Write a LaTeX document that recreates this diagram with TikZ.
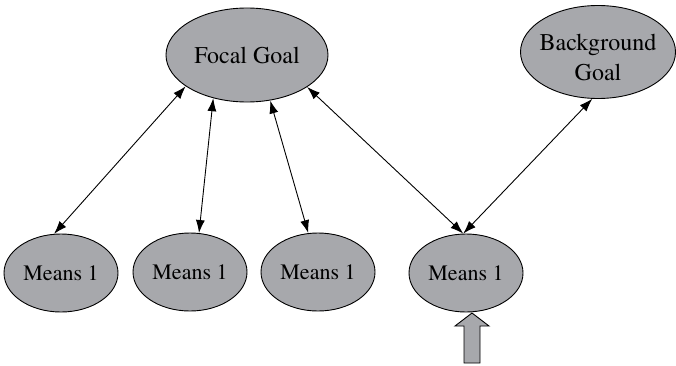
\documentclass[tikz,border=0pt]{standalone}
\usepackage{fontspec}
\newfontfamily\tms{texgyretermes-regular.otf}
\usetikzlibrary{arrows.meta,shapes.geometric}
\definecolor{ellgray}{RGB}{167,168,172}
\tikzset{
  goal/.style={ellipse, draw=black, line width=0.9pt, fill=ellgray, inner sep=0pt, align=center, font=\tms\fontsize{24}{30}\selectfont},
  goaltext/.style={inner sep=0pt, align=center, font=\tms\fontsize{24}{30}\selectfont},
  means/.style={ellipse, draw=black, line width=0.9pt, fill=ellgray, inner sep=0pt, minimum width=114pt, minimum height=78pt, font=\tms\fontsize{22}{26}\selectfont},
  link/.style={line width=0.9pt, {Latex[length=13pt,width=9pt]}-{Latex[length=13pt,width=9pt]}},
  blockarrow/.style={draw=black, line width=0.9pt, fill=ellgray}
}
\begin{document}
\begin{tikzpicture}[x=1pt,y=1pt]
\useasboundingbox (0,0) rectangle (676,365);
\node[goal, minimum width=162pt, minimum height=94pt] (focal) at (247,310) {Focal Goal};
\node[goal, minimum width=155pt, minimum height=93pt] (bg) at (598,313) {};
\node[goaltext] (bgtext) at ([yshift=-5pt]bg.center) {Background\\Goal};
\node[means] (m1) at (61,92) {Means 1};
\node[means] (m2) at (190,93) {Means 1};
\node[means] (m3) at (318,93) {Means 1};
\node[means] (m4) at (466,92) {Means 1};
\draw[link] (focal.207) -- (m1.100);
\draw[link] (focal.232) -- (m2.77);
\draw[link] (focal.297) -- (m3.104);
\draw[link] (focal.332) -- (m4.94);
\draw[link] (bg.263) -- (m4.94);
\coordinate (tip) at (472,52);
\draw[blockarrow] (tip) -- ++(17,-13) -- ++(-9,0) -- ++(0,-37) -- ++(-16,0) -- ++(0,37) -- ++(-9,0) -- cycle;
\end{tikzpicture}
\end{document}
